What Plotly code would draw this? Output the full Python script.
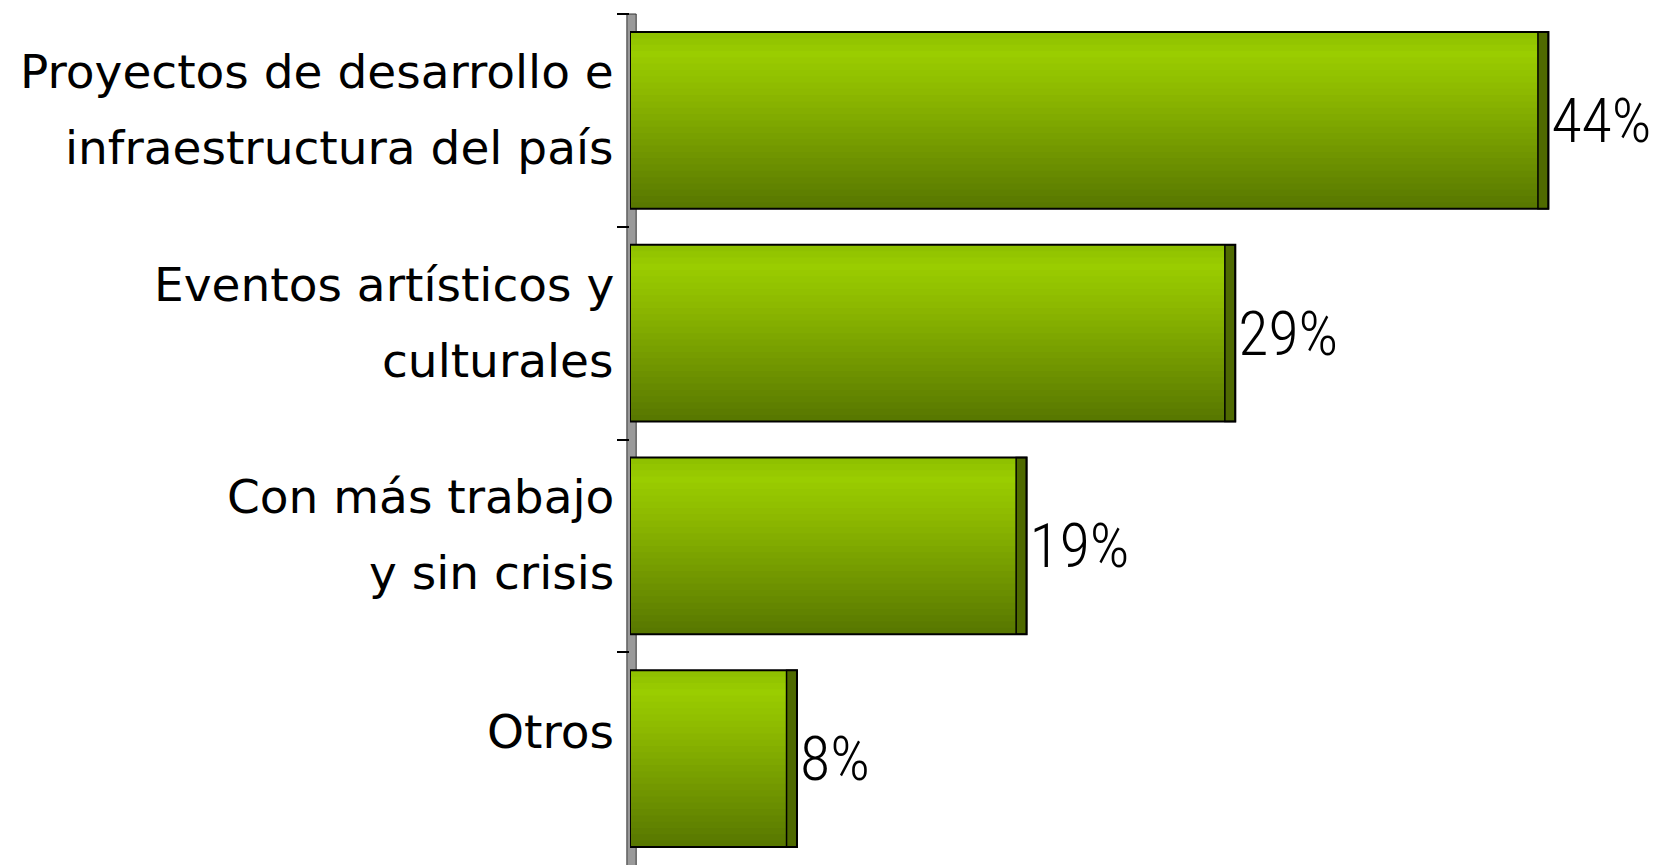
import plotly.graph_objects as go

categories = ["Proyectos de desarrollo e<br>infraestructura del país",
              "Eventos artísticos y<br>culturales",
              "Con más trabajo<br>y sin crisis",
              "Otros"]
values = [44, 29, 19, 8]
value_labels = ["44%", "29%", "19%", "8%"]

ys = list(range(len(categories)))

BAR_W = 0.83
N_STRIPES = 28
CAP = 0.5


def hexrgb(h):
    h = h.lstrip("#")
    return tuple(int(h[i:i + 2], 16) for i in (0, 2, 4))


def grad(t):
    stops = [(0.0, "#8DBF00"), (0.12, "#9ACD00"), (0.35, "#8CB800"), (1.0, "#577600")]
    for (t0, c0), (t1, c1) in zip(stops, stops[1:]):
        if t0 <= t <= t1:
            f = (t - t0) / (t1 - t0)
            a, b = hexrgb(c0), hexrgb(c1)
            return "rgb(%d,%d,%d)" % tuple(round(a[k] + (b[k] - a[k]) * f) for k in range(3))
    return stops[-1][1]


fig = go.Figure()
s = BAR_W / N_STRIPES
for i in range(N_STRIPES):
    w = s if i == N_STRIPES - 1 else s * 1.6
    fig.add_trace(go.Bar(
        y=ys, x=values, orientation="h",
        width=w, offset=-BAR_W / 2 + i * s,
        marker=dict(color=grad((i + 0.5) / N_STRIPES), line=dict(width=0)),
        hoverinfo="skip", showlegend=False,
    ))

# dark end cap
fig.add_trace(go.Bar(
    y=ys, x=[CAP] * len(values), base=[v - CAP for v in values], orientation="h",
    width=BAR_W, offset=-BAR_W / 2,
    marker=dict(color="#4F6A00", line=dict(color="black", width=1.5)),
    hoverinfo="skip", showlegend=False,
))

# outline + value labels
fig.add_trace(go.Bar(
    y=ys, x=values, orientation="h",
    width=BAR_W, offset=-BAR_W / 2,
    marker=dict(color="rgba(0,0,0,0)", line=dict(color="black", width=2)),
    text=value_labels, textposition="outside", constraintext="none",
    textfont=dict(family="Roboto Condensed, Liberation Sans Narrow, DejaVu Sans Condensed, sans-serif",
                  size=62, color="black", weight=300),
    cliponaxis=False, showlegend=False,
))

# category labels as separate lines
LABEL_FONT = dict(family="DejaVu Sans, Verdana, sans-serif", size=47, color="black")
for y, cat in zip(ys, categories):
    lines = cat.split("<br>")
    if len(lines) == 2:
        shifts = [49, -27]
    else:
        shifts = [27]
    for line, sh in zip(lines, shifts):
        fig.add_annotation(x=0, xref="paper", y=y, yref="y", text=line,
                           showarrow=False, xanchor="right", yanchor="middle",
                           xshift=-14, yshift=sh, font=LABEL_FONT)

# axis wall
fig.add_shape(type="rect", xref="paper", yref="paper", x0=-0.003, x1=0.006, y0=-0.02, y1=1,
              fillcolor="#9A9A9A", line=dict(color="#333333", width=1), layer="below")

fig.update_layout(
    width=1651, height=857,
    margin=dict(l=622, r=0, t=6, b=0),
    paper_bgcolor="white", plot_bgcolor="white",
    barmode="overlay",
    xaxis=dict(range=[0, 49.3], visible=False),
    yaxis=dict(range=[3.5, -0.5], tickmode="array", tickvals=[-0.5, 0.5, 1.5, 2.5],
               ticks="outside", ticklen=12, tickcolor="black", tickwidth=1.5,
               showticklabels=False, showgrid=False, zeroline=False, showline=False),
)

fig.write_html("out.html")
